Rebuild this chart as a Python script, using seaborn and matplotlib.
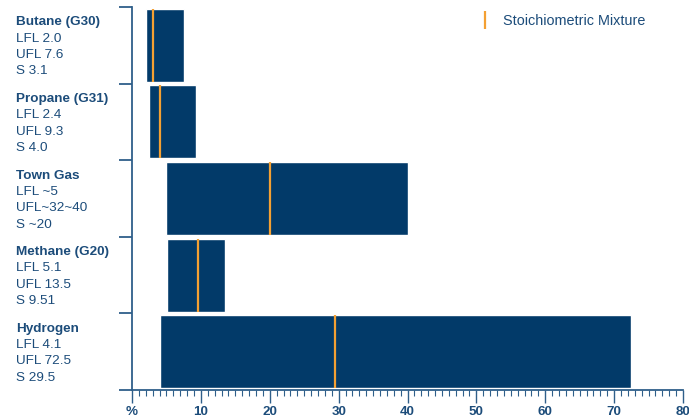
import pandas as pd
import matplotlib.pyplot as plt
import matplotlib.transforms as mtransforms
from matplotlib.lines import Line2D
from matplotlib.ticker import MultipleLocator
import seaborn as sns

# Flammability range data (vol % in air)
gases = ['Butane (G30)', 'Propane (G31)', 'Town Gas', 'Methane (G20)', 'Hydrogen']
lfl = [2.0, 2.4, 5, 5.1, 4.1]
ufl = [7.6, 9.3, 40, 13.5, 72.5]
stoich = [3.1, 4.0, 20, 9.51, 29.5]
label_lines = [
    ['LFL 2.0', 'UFL 7.6', 'S 3.1'],
    ['LFL 2.4', 'UFL 9.3', 'S 4.0'],
    ['LFL ~5', 'UFL~32~40', 'S ~20'],
    ['LFL 5.1', 'UFL 13.5', 'S 9.51'],
    ['LFL 4.1', 'UFL 72.5', 'S 29.5'],
]
xticks = [0, 10, 20, 30, 40, 50, 60, 70, 80]
xticklabels = ['%', '10', '20', '30', '40', '50', '60', '70', '80']

navy = '#023a69'
text_col = '#1c4c7a'
spine_col = '#2f5f8a'
orange = '#f4a033'

sns.set_style('white')
plt.rcParams['font.family'] = ['Liberation Sans', 'DejaVu Sans']

df = pd.DataFrame({'gas': gases, 'lfl': lfl, 'ufl': ufl, 'stoich': stoich})
df['span'] = df['ufl'] - df['lfl']

fig = plt.figure(figsize=(6.89, 4.2), dpi=100)
ax = fig.add_axes([0.1916, 0.0714, 0.7997, 0.912])

sns.barplot(data=df, x='span', y='gas', orient='h', color=navy,
            width=0.955, saturation=1, ax=ax)
# shift each bar so it starts at the LFL
for patch, start in zip(ax.patches, df['lfl']):
    patch.set_x(start)

# stoichiometric mixture markers
for i, s in enumerate(df['stoich']):
    ax.vlines(s, i - 0.477, i + 0.477, color=orange, lw=1.6, zorder=3)

ax.set_xlim(0, 80)
ax.set_ylim(4.5, -0.5)
ax.set_xlabel('')
ax.set_ylabel('')

ax.set_xticks(xticks)
ax.set_xticklabels(xticklabels, fontsize=9.6, fontweight='bold', color=text_col)
ax.xaxis.set_minor_locator(MultipleLocator(1))
ax.tick_params(axis='x', which='major', direction='out', length=9, width=1,
               color=spine_col, pad=2.5, bottom=True)
ax.tick_params(axis='x', which='minor', direction='out', length=4, width=0.8,
               color=spine_col, bottom=True)

ax.set_yticks([-0.5, 0.5, 1.5, 2.5, 3.5, 4.5])
ax.set_yticklabels([])
ax.tick_params(axis='y', which='major', direction='out', length=9.5, width=1.3,
               color=spine_col, left=True)

for side in ['top', 'right']:
    ax.spines[side].set_visible(False)
for side in ['left', 'bottom']:
    ax.spines[side].set_color(spine_col)
    ax.spines[side].set_linewidth(1.3)

# category labels at the left
trans = mtransforms.blended_transform_factory(fig.transFigure, ax.transData)
step = 0.213
for i, gas in enumerate(gases):
    lines = [gas] + label_lines[i]
    for j, line in enumerate(lines):
        ax.text(0.023, i + (j - 1.5) * step + 0.02, line, transform=trans,
                fontsize=9.7, color=text_col, va='center', ha='left',
                fontweight='bold' if j == 0 else 'normal')

handle = Line2D([0], [0], color=orange, lw=0, marker='|', markersize=13,
                markeredgewidth=1.6)
ax.legend([handle], ['Stoichiometric Mixture'], frameon=False, loc='center left',
          bbox_to_anchor=(0.675, 0.95), handlelength=1.0, handletextpad=0.7,
          fontsize=10.4, labelcolor=text_col, bbox_transform=fig.transFigure)

plt.savefig('out.png', dpi=100)
